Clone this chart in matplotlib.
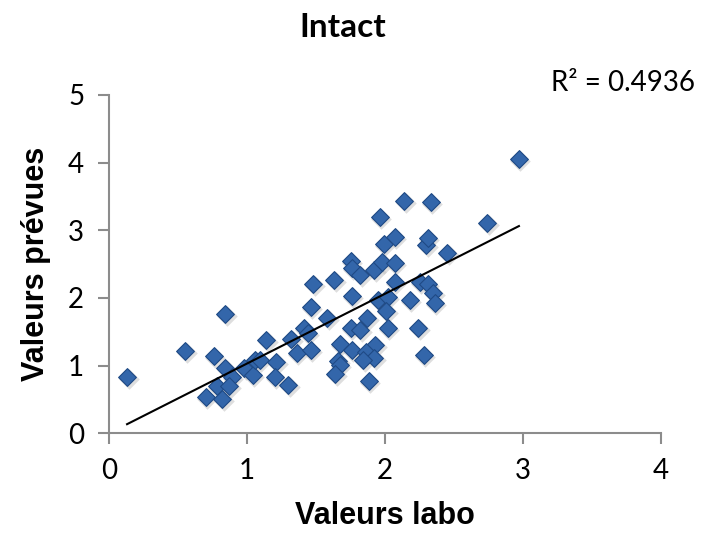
#%% Imports
import numpy as np
import matplotlib
matplotlib.use('Agg')
import matplotlib.pyplot as plt
import matplotlib.transforms as mtransforms

#%% Data
valeurs_labo = [
    0.13, 0.55, 0.84, 0.76, 0.84, 0.89, 0.78, 0.87, 0.70, 0.82,
    0.98, 1.04, 1.06, 1.09, 1.14, 1.21, 1.20, 1.30, 1.32, 1.36,
    1.99, 2.30, 2.45, 1.75, 1.76, 1.82, 1.92, 1.98, 2.07, 2.07,
    1.48, 1.63, 1.76, 1.95, 2.02, 2.01, 2.18, 2.25, 2.31, 2.35,
    2.36, 1.46, 1.58, 1.87, 1.75, 1.82, 2.02, 2.24, 1.41, 1.44,
    1.67, 1.93, 1.76, 1.86, 1.92, 1.84, 1.46, 1.66, 1.67, 1.64,
    1.88, 2.28, 2.97, 2.14, 2.33, 2.74, 1.96, 2.07, 2.31,
]
valeurs_prevues = [
    0.83, 1.21, 1.76, 1.14, 0.96, 0.83, 0.70, 0.70, 0.54, 0.51,
    0.96, 0.86, 1.08, 1.08, 1.38, 1.05, 0.83, 0.71, 1.39, 1.19,
    2.80, 2.78, 2.67, 2.55, 2.44, 2.34, 2.42, 2.53, 2.51, 2.24,
    2.20, 2.26, 2.03, 1.97, 2.01, 1.81, 1.97, 2.24, 2.21, 2.07,
    1.93, 1.87, 1.70, 1.70, 1.56, 1.52, 1.56, 1.56, 1.56, 1.48,
    1.32, 1.30, 1.23, 1.20, 1.12, 1.08, 1.23, 1.07, 1.01, 0.87,
    0.78, 1.15, 4.06, 3.44, 3.42, 3.11, 3.20, 2.90, 2.89,
]
r2_label = 'R² = 0.4936'
title = 'Intact'
xticks = [0, 1, 2, 3, 4]
yticks = [0, 1, 2, 3, 4, 5]

x = np.array(valeurs_labo)
y = np.array(valeurs_prevues)

#%% Figure
fig = plt.figure(figsize=(7.04, 5.52), dpi=100)
ax = fig.add_axes([0.155, 0.215, 0.784, 0.613])

## soft shadow under the diamonds (Excel style)
shadow = mtransforms.offset_copy(ax.transData, fig=fig, x=1.5, y=-2, units='dots')
ax.scatter(x, y, marker='D', s=110, color='#bfbfbf', alpha=0.5,
           linewidths=0, transform=shadow, zorder=2)
ax.scatter(x, y, marker='D', s=82, color='#3366AA', edgecolors='#1F4A85',
           linewidths=0.8, zorder=3)

## linear trendline over the data range
slope, intercept = np.polyfit(x, y, 1)
xl = np.array([x.min(), x.max()])
ax.plot(xl, slope * xl + intercept, color='black', lw=1.5, zorder=4)

ax.set_xlim(0, 4)
ax.set_ylim(0, 5)
ax.set_xticks(xticks)
ax.set_yticks(yticks)
for s in ['top', 'right']:
    ax.spines[s].set_visible(False)
for s in ['left', 'bottom']:
    ax.spines[s].set_color('#8c8c8c')
    ax.spines[s].set_linewidth(1.5)
ax.tick_params(axis='both', direction='out', length=8, width=1.5,
               color='#8c8c8c', labelsize=20, pad=10)
for lab in ax.get_xticklabels() + ax.get_yticklabels():
    lab.set_family('Lato')

ax.set_xlabel('Valeurs labo', fontsize=22, fontweight='bold',
              family='Liberation Sans', labelpad=12)
ax.set_ylabel('Valeurs prévues', fontsize=22, fontweight='bold',
              family='Liberation Sans', labelpad=12)

fig.text(0.487, 0.95, title, ha='center', va='center', fontsize=24,
         fontweight='bold', family='Lato')
fig.text(0.987, 0.85, r2_label, ha='right', va='center', fontsize=20,
         family='Lato')

fig.savefig('out.png', dpi=100)
